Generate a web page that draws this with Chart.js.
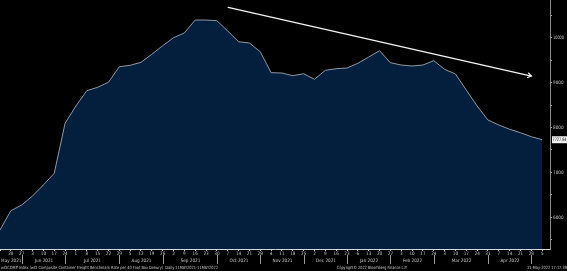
<!DOCTYPE html>
<html>
<head>
<meta charset="utf-8">
<script src="https://cdn.jsdelivr.net/npm/chart.js@4"></script>
<style>
  html, body { margin: 0; padding: 0; background: #000; }
  canvas { display: block; }
</style>
</head>
<body>
<canvas id="wci" width="567" height="271"></canvas>
<script>
// weekly WCI composite readings (Thursdays, Dec 30 not published)
const weeks = [
    '2021-05-13', '2021-05-20', '2021-05-27',
    '2021-06-03', '2021-06-10', '2021-06-17', '2021-06-24',
    '2021-07-01', '2021-07-08', '2021-07-15', '2021-07-22', '2021-07-29',
    '2021-08-05', '2021-08-12', '2021-08-19', '2021-08-26',
    '2021-09-02', '2021-09-09', '2021-09-16', '2021-09-23', '2021-09-30',
    '2021-10-07', '2021-10-14', '2021-10-21', '2021-10-28',
    '2021-11-04', '2021-11-11', '2021-11-18', '2021-11-25',
    '2021-12-02', '2021-12-09', '2021-12-16', '2021-12-23',
    '2022-01-06', '2022-01-13', '2022-01-20', '2022-01-27',
    '2022-02-03', '2022-02-10', '2022-02-17', '2022-02-24',
    '2022-03-03', '2022-03-10', '2022-03-17', '2022-03-24', '2022-03-31',
    '2022-04-07', '2022-04-14', '2022-04-21', '2022-04-28',
    '2022-05-05'
];
const wciValues = [
    5717, 6147, 6274,
    6475, 6720, 6980, 8094,
    8479, 8820, 8895, 9007, 9354,
    9385, 9452, 9630, 9822,
    10000, 10105, 10394, 10394, 10379,
    10149, 9911, 9882, 9688,
    9221, 9214, 9154, 9198,
    9074, 9274, 9310, 9325,
    9430, 9570, 9710, 9443,
    9392, 9370, 9392, 9488,
    9296, 9192, 8835, 8479, 8167,
    8056, 7960, 7884, 7795,
    7727.84
];
const monthNames = ['Jan', 'Feb', 'Mar', 'Apr', 'May', 'Jun', 'Jul', 'Aug', 'Sep', 'Oct', 'Nov', 'Dec'];
const yRange = [5294, 10840];
const yTickValues = [5500, 6000, 6500, 7000, 7500, 8000, 8500, 9000, 9500, 10000, 10500];
// hand-drawn trend arrow, in data units: [week index, value]
const trendArrow = [[21.04, 10677], [49.0, 9147]];

const footerLeft = 'wCICOMP Index (wCI Composite Container Freight Benchmark Rate per 40 Foot Box Drewry)  Daily 11MAY2021-11MAY2022';
const footerMid = 'Copyright\u00A9 2022 Bloomberg Finance L.P.';
const footerRight = '11-May-2022 17:17:39';

const tinyFont = '"Liberation Sans Narrow", "DejaVu Sans Condensed", "Liberation Sans", sans-serif';
const textGrey = '#c9c9c9';

const dayOf = (s) => String(parseInt(s.slice(8), 10));
const monthKey = (s) => s.slice(0, 7);

// month captions + separators under the day ticks, plus footer and annotations
const bloombergPlugin = {
    id: 'bloombergPlugin',
    afterDraw(chart) {
        const ctx = chart.ctx;
        const x = chart.scales.x;
        const y = chart.scales.y;
        const area = chart.chartArea;

        ctx.save();
        ctx.font = `4.6px ${tinyFont}`;
        ctx.fillStyle = textGrey;
        ctx.strokeStyle = '#9a9a9a';
        ctx.lineWidth = 1;
        ctx.textBaseline = 'middle';
        ctx.textAlign = 'center';

        // last week of every month gets a separator line
        let prevX = area.left;
        weeks.forEach((d, i) => {
            const next = weeks[i + 1];
            if (!next || monthKey(next) === monthKey(d)) return;
            const sx = Math.round(x.getPixelForValue(i)) + 0.5;
            ctx.beginPath();
            ctx.moveTo(sx, 255);
            ctx.lineTo(sx, 264);
            ctx.stroke();
            const m = parseInt(d.slice(5, 7), 10) - 1;
            ctx.fillText(`${monthNames[m]} ${d.slice(0, 4)}`, (prevX + sx) / 2, 261);
            prevX = sx;
        });

        // y labels (thousands only) to the right of the axis
        ctx.textAlign = 'left';
        yTickValues.forEach((v) => {
            if (v % 1000 !== 0) return;
            ctx.fillText(String(v), area.right + 3, y.getPixelForValue(v) + 0.3, 11);
        });

        // footer line
        ctx.font = `4.3px ${tinyFont}`;
        ctx.fillText(footerLeft, 1, 268, 217);
        ctx.fillText(footerMid, 337, 268, 70);
        ctx.fillText(footerRight, 527, 268, 40);

        // last value tag on the right axis
        const last = wciValues[wciValues.length - 1];
        const ly = y.getPixelForValue(last);
        ctx.fillStyle = '#f2f2f2';
        ctx.fillRect(area.right + 2, ly - 3.5, 15, 7);
        ctx.fillStyle = '#111';
        ctx.font = `4.6px ${tinyFont}`;
        ctx.fillText(last.toFixed(2), area.right + 2.5, ly + 0.3, 14);

        // trend arrow
        const [a, b] = trendArrow;
        const x1 = x.getPixelForValue(a[0]), y1 = y.getPixelForValue(a[1]);
        const x2 = x.getPixelForValue(b[0]), y2 = y.getPixelForValue(b[1]);
        const ang = Math.atan2(y2 - y1, x2 - x1);
        ctx.strokeStyle = '#f4f4f4';
        ctx.lineWidth = 1.3;
        ctx.lineCap = 'round';
        ctx.beginPath();
        ctx.moveTo(x1, y1);
        ctx.lineTo(x2, y2);
        ctx.moveTo(x2 - 4 * Math.cos(ang - 0.6), y2 - 4 * Math.sin(ang - 0.6));
        ctx.lineTo(x2, y2);
        ctx.lineTo(x2 - 4 * Math.cos(ang + 0.6), y2 - 4 * Math.sin(ang + 0.6));
        ctx.stroke();
        ctx.restore();
    }
};

new Chart(document.getElementById('wci').getContext('2d'), {
    type: 'line',
    data: {
        datasets: [{
            label: 'WCICOMP',
            data: wciValues.map((v, i) => ({ x: i, y: v })),
            borderColor: '#8f98a4',
            borderWidth: 1,
            backgroundColor: '#031f3d',
            fill: 'start',
            tension: 0,
            pointRadius: 0
        }]
    },
    options: {
        responsive: false,
        animation: false,
        layout: { padding: 0 },
        plugins: {
            legend: { display: false },
            tooltip: { enabled: false }
        },
        scales: {
            x: {
                type: 'linear',
                min: 0,
                max: 50.72,
                afterBuildTicks: (scale) => {
                    scale.ticks = weeks.map((d, i) => ({ value: i }));
                },
                afterFit: (scale) => { scale.height = 22; },
                grid: {
                    drawOnChartArea: false,
                    drawTicks: true,
                    tickLength: 2,
                    color: '#bdbdbd'
                },
                border: { display: true, color: '#d6d6d6', width: 1 },
                ticks: {
                    autoSkip: false,
                    maxRotation: 0,
                    padding: 0,
                    color: textGrey,
                    font: { family: tinyFont, size: 4.6 },
                    callback: (value, index) => index === 0 ? '' : dayOf(weeks[value])
                }
            },
            y: {
                position: 'right',
                min: yRange[0],
                max: yRange[1],
                afterBuildTicks: (scale) => {
                    scale.ticks = yTickValues.map((v) => ({ value: v }));
                },
                afterFit: (scale) => { scale.width = 17; },
                grid: {
                    drawOnChartArea: false,
                    drawTicks: true,
                    tickLength: 2,
                    color: '#9a9a9a'
                },
                border: { display: true, color: '#8a8a8a', width: 1 },
                ticks: {
                    display: false,
                    autoSkip: false
                }
            }
        }
    },
    plugins: [bloombergPlugin]
});
</script>
</body>
</html>
